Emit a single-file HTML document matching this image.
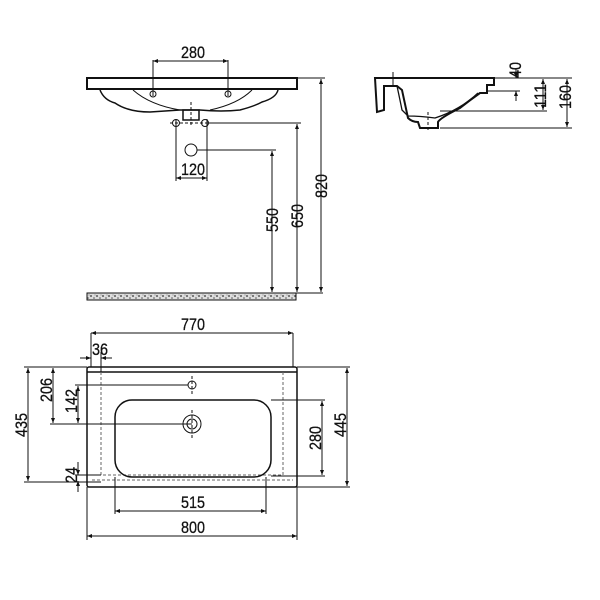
<!DOCTYPE html>
<html><head><meta charset="utf-8"><style>html,body{margin:0;background:#fff}svg{display:block}text{font-family:"Liberation Sans",sans-serif;font-size:17px;fill:#111;stroke:#111;stroke-width:0.3}</style></head><body>
<svg width="600" height="600" viewBox="0 0 600 600" xmlns="http://www.w3.org/2000/svg">
<defs>
<marker id="a" viewBox="0 0 10 10" refX="10" refY="5" markerWidth="7" markerHeight="5" orient="auto-start-reverse"><path d="M0,1 L10,5 L0,9z" fill="#111"/></marker>
<pattern id="h" width="6" height="6" patternUnits="userSpaceOnUse"><rect width="6" height="6" fill="#ddd"/><circle cx="1" cy="2" r="0.9" fill="#333"/><circle cx="4" cy="4" r="0.8" fill="#555"/><circle cx="5" cy="1" r="0.5" fill="#666"/></pattern>
</defs>
<g stroke="#111" fill="none" stroke-width="1">
<rect x="87" y="78" width="210" height="11" stroke-width="2"/>
<path d="M100,90 Q104,100 115,103 Q128,112 150,112 Q165,111 180,110 L200,110 Q222,112 240,110 Q255,106 262,102 Q276,98 278,90" stroke-width="1.5"/>
<path d="M133,90 Q150,105 180,110 M210,110 Q238,104 252,90"/>
<rect x="183" y="110" width="16" height="10" stroke-width="1.5"/>
<line x1="191" y1="102" x2="191" y2="125" stroke-dasharray="3,2"/>
<circle cx="176" cy="123" r="3.5"/><circle cx="205" cy="123" r="3.5"/>
<line x1="170" y1="123" x2="211" y2="123" stroke-dasharray="3,2"/>
<circle cx="153" cy="94" r="3"/><circle cx="228" cy="94" r="3"/>
<circle cx="191" cy="150" r="6"/>
<line x1="153" y1="60" x2="153" y2="96"/><line x1="228" y1="60" x2="228" y2="96"/>
<line x1="153" y1="61" x2="228" y2="61" marker-start="url(#a)" marker-end="url(#a)"/>
<line x1="176" y1="119" x2="176" y2="181"/><line x1="207" y1="119" x2="207" y2="181"/>
<line x1="176" y1="178" x2="207" y2="178" marker-start="url(#a)" marker-end="url(#a)"/>
<line x1="297" y1="78" x2="325" y2="78"/>
<line x1="209" y1="123" x2="301" y2="123"/>
<line x1="197" y1="150" x2="276" y2="150"/>
<line x1="321" y1="79" x2="321" y2="292" marker-start="url(#a)" marker-end="url(#a)"/>
<line x1="297" y1="124" x2="297" y2="292" marker-start="url(#a)" marker-end="url(#a)"/>
<line x1="272" y1="151" x2="272" y2="292" marker-start="url(#a)" marker-end="url(#a)"/>
<line x1="296" y1="293" x2="323" y2="293"/>
<rect x="87" y="293" width="209" height="7" fill="url(#h)"/>
<path d="M375,78 L494,78 L494,85 L487,85 L487,93 L480,93 Q470,100 460,108 Q440,118 438,122 L438,128 L420,128 L418,122 Q412,122 408,118 L402,90 L397,86 L384,86 L384,110 L377,112 L375,78z" stroke-width="2"/>
<path d="M397,86 Q400,100 402,110 L408,116 Q420,116 435,118 Q460,110 478,93" stroke-width="1.3"/>
<line x1="393" y1="72" x2="393" y2="86"/><line x1="428" y1="112" x2="428" y2="132" stroke-dasharray="3,2"/>
<line x1="494" y1="78" x2="572" y2="78"/>
<line x1="487" y1="91" x2="520" y2="91"/>
<line x1="440" y1="111" x2="547" y2="111"/>
<line x1="440" y1="128" x2="572" y2="128"/>
<line x1="516" y1="68" x2="516" y2="78" marker-end="url(#a)"/>
<line x1="516" y1="101" x2="516" y2="91" marker-end="url(#a)"/>
<line x1="543" y1="79" x2="543" y2="110" marker-start="url(#a)" marker-end="url(#a)"/>
<line x1="567" y1="79" x2="567" y2="127" marker-start="url(#a)" marker-end="url(#a)"/>
<rect x="87" y="367" width="210" height="120" rx="2" stroke-width="1.5"/>
<line x1="87" y1="372" x2="297" y2="372" stroke-width="1.5"/>
<path d="M101,372 L101,475 L283,475 L283,372 M92,480 L293,480" stroke-dasharray="3,2" stroke="#666"/>
<rect x="115" y="400" width="156" height="77" rx="17" stroke-width="1.5"/>
<circle cx="192" cy="424" r="9"/><circle cx="192" cy="424" r="5"/>
<circle cx="192" cy="385" r="4"/>
<line x1="192" y1="376" x2="192" y2="394" stroke-dasharray="3,2"/>
<line x1="192" y1="410" x2="192" y2="438" stroke-dasharray="3,2"/>
<line x1="91" y1="333" x2="91" y2="367"/><line x1="293" y1="333" x2="293" y2="367"/>
<line x1="91" y1="333" x2="293" y2="333" marker-start="url(#a)" marker-end="url(#a)"/>
<line x1="80" y1="358" x2="91" y2="358" marker-end="url(#a)"/><line x1="112" y1="358" x2="101" y2="358" marker-end="url(#a)"/>
<line x1="101" y1="352" x2="101" y2="372"/>
<line x1="24" y1="367" x2="87" y2="367"/><line x1="24" y1="482" x2="101" y2="482"/>
<line x1="28" y1="368" x2="28" y2="481" marker-start="url(#a)" marker-end="url(#a)"/>
<line x1="50" y1="424" x2="192" y2="424"/>
<line x1="53" y1="368" x2="53" y2="423" marker-start="url(#a)" marker-end="url(#a)"/>
<line x1="75" y1="385" x2="188" y2="385"/>
<line x1="78" y1="386" x2="78" y2="423" marker-start="url(#a)" marker-end="url(#a)"/>
<line x1="75" y1="475" x2="101" y2="475"/>
<line x1="78" y1="462" x2="78" y2="475" marker-end="url(#a)"/>
<line x1="78" y1="492" x2="78" y2="481" marker-end="url(#a)"/>
<line x1="271" y1="400" x2="325" y2="400"/><line x1="271" y1="476" x2="325" y2="476"/>
<line x1="322" y1="401" x2="322" y2="475" marker-start="url(#a)" marker-end="url(#a)"/>
<line x1="297" y1="367" x2="350" y2="367"/><line x1="297" y1="487" x2="350" y2="487"/>
<line x1="347" y1="368" x2="347" y2="486" marker-start="url(#a)" marker-end="url(#a)"/>
<line x1="115" y1="477" x2="115" y2="514"/><line x1="266" y1="477" x2="266" y2="514"/>
<line x1="115" y1="511" x2="266" y2="511" marker-start="url(#a)" marker-end="url(#a)"/>
<line x1="87" y1="487" x2="87" y2="540"/><line x1="297" y1="487" x2="297" y2="540"/>
<line x1="87" y1="536" x2="297" y2="536" marker-start="url(#a)" marker-end="url(#a)"/>
</g>
<g>
<text x="181" y="58" textLength="24" lengthAdjust="spacingAndGlyphs">280</text>
<text x="181" y="175" textLength="24" lengthAdjust="spacingAndGlyphs">120</text>
<text transform="translate(327,198) rotate(-90)" textLength="24" lengthAdjust="spacingAndGlyphs">820</text>
<text transform="translate(303,228) rotate(-90)" textLength="24" lengthAdjust="spacingAndGlyphs">650</text>
<text transform="translate(278,232) rotate(-90)" textLength="24" lengthAdjust="spacingAndGlyphs">550</text>
<text transform="translate(521,78) rotate(-90)" textLength="16" lengthAdjust="spacingAndGlyphs">40</text>
<text transform="translate(546,108) rotate(-90)" textLength="24" lengthAdjust="spacingAndGlyphs">111</text>
<text transform="translate(571,109) rotate(-90)" textLength="24" lengthAdjust="spacingAndGlyphs">160</text>
<text x="181" y="330" textLength="24" lengthAdjust="spacingAndGlyphs">770</text>
<text x="92" y="355" textLength="16" lengthAdjust="spacingAndGlyphs">36</text>
<text transform="translate(27,437) rotate(-90)" textLength="24" lengthAdjust="spacingAndGlyphs">435</text>
<text transform="translate(52,402) rotate(-90)" textLength="24" lengthAdjust="spacingAndGlyphs">206</text>
<text transform="translate(77,413) rotate(-90)" textLength="24" lengthAdjust="spacingAndGlyphs">142</text>
<text transform="translate(77,483) rotate(-90)" textLength="16" lengthAdjust="spacingAndGlyphs">24</text>
<text transform="translate(321,450) rotate(-90)" textLength="24" lengthAdjust="spacingAndGlyphs">280</text>
<text transform="translate(346,437) rotate(-90)" textLength="24" lengthAdjust="spacingAndGlyphs">445</text>
<text x="181" y="508" textLength="24" lengthAdjust="spacingAndGlyphs">515</text>
<text x="181" y="533" textLength="24" lengthAdjust="spacingAndGlyphs">800</text>
</g>
</svg>
</body></html>
